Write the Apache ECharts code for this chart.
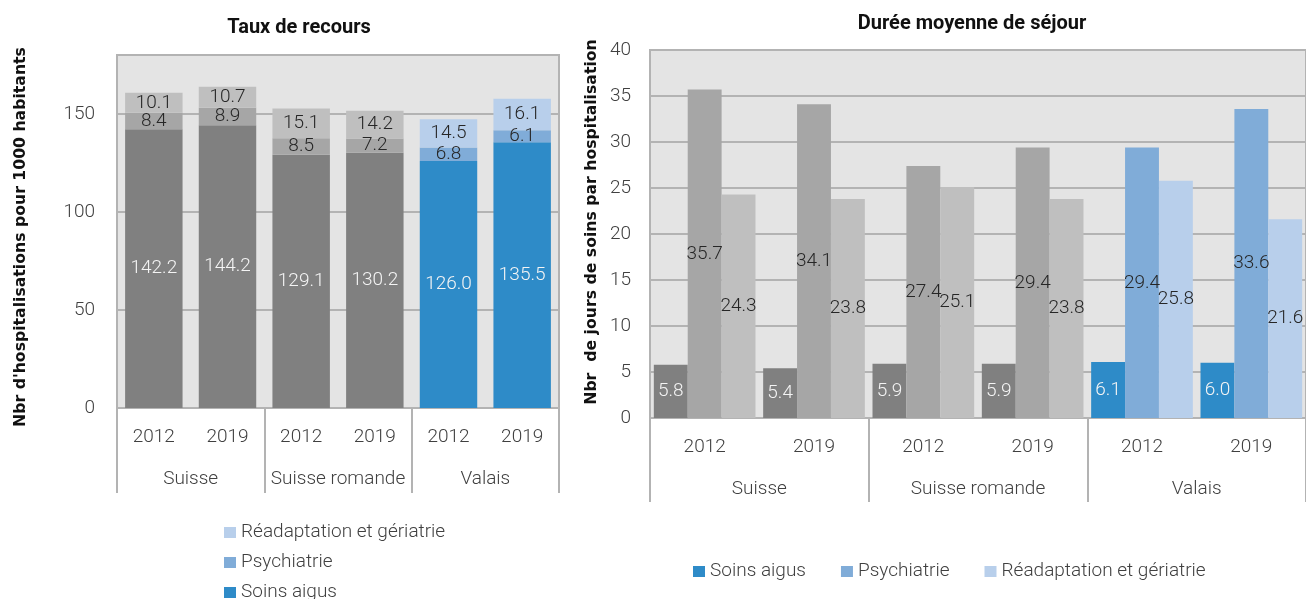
<!DOCTYPE html>
<html><head><meta charset="utf-8">
<script src="https://cdn.jsdelivr.net/npm/echarts@6/dist/echarts.min.js"></script>
<style>html,body{margin:0;padding:0;background:#fff}#c{width:1306px;height:599px}</style>
</head><body><div id="c"></div>
<script>
const years = ['2012','2019','2012','2019','2012','2019'];
const regions = ['Suisse','Suisse romande','Valais'];
const seriesNames = ['Soins aigus','Psychiatrie','Réadaptation et gériatrie'];
const tauxSoinsAigus = [142.2,144.2,129.1,130.2,126.0,135.5];
const tauxPsychiatrie = [8.4,8.9,8.5,7.2,6.8,6.1];
const tauxReadaptation = [10.1,10.7,15.1,14.2,14.5,16.1];
const dureeSoinsAigus = [5.8,5.4,5.9,5.9,6.1,6.0];
const dureePsychiatrie = [35.7,34.1,27.4,29.4,29.4,33.6];
const dureeReadaptation = [24.3,23.8,25.1,23.8,25.8,21.6];
const tauxTicks = [0,50,100,150];
const dureeTicks = [0,5,10,15,20,25,30,35,40];

const FONT = 'Roboto';
const FS = 19;
const blue = ['#2e8bc8','#80acd8','#b8cfeb'];
const grey = ['#808080','#a6a6a6','#bfbfbf'];
const lineC = '#b3b3b3';
const txt = '#404040';

function pts(vals, k){
  return vals.map((v,i)=>({value:v, itemStyle:{color: Math.floor(i/2)===2 ? blue[k] : grey[k]}}));
}
function lbl(k){
  return {show:true, position:'inside', fontFamily:FONT, fontSize:FS, fontWeight:300,
    color: k===0 ? '#f4f4f4' : '#262626', formatter: p => p.value.toFixed(1)};
}

const chart = echarts.init(document.getElementById('c'), null, {renderer:'canvas'});
const yearAxis = (gi, margin) => ({type:'category', gridIndex:gi, data:years, position:'bottom',
  axisLine:{show:true, lineStyle:{color:lineC, width:2}}, axisTick:{show:false},
  axisLabel:{fontFamily:FONT, fontSize:FS, fontWeight:300, color:txt, margin:margin, interval:0}});
const regionAxis = (gi, margin, len) => ({type:'category', gridIndex:gi, data:regions, position:'bottom',
  axisLine:{show:false}, axisTick:{show:true, interval:0, length:len, lineStyle:{color:lineC, width:2}},
  axisLabel:{fontFamily:FONT, fontSize:FS, fontWeight:300, color:txt, margin:margin, interval:0, hideOverlap:false}});

const tauxMax = 180;
const option = {
  animation:false,
  textStyle:{fontFamily:FONT},
  grid:[
    {left:117, right:1306-559, top:55, bottom:599-408, show:true, backgroundColor:'#e4e4e4', borderColor:lineC, borderWidth:2},
    {left:650, right:0, top:50, bottom:599-418, show:true, backgroundColor:'#e4e4e4', borderColor:lineC, borderWidth:2}
  ],
  xAxis:[ yearAxis(0,20), regionAxis(0,62,85), yearAxis(1,20), regionAxis(1,62,84) ],
  yAxis:[
    {type:'value', gridIndex:0, min:tauxTicks[0], max:tauxMax, interval:tauxTicks[1]-tauxTicks[0],
     axisLabel:{fontFamily:FONT, fontSize:FS, fontWeight:300, color:txt, margin:22, showMaxLabel:false,
       formatter: v => tauxTicks.includes(v) ? String(v) : ''},
     axisLine:{show:false}, axisTick:{show:false}, splitLine:{lineStyle:{color:lineC, width:2}}},
    {type:'value', gridIndex:1, min:dureeTicks[0], max:dureeTicks[dureeTicks.length-1], interval:dureeTicks[1]-dureeTicks[0],
     axisLabel:{fontFamily:FONT, fontSize:FS, fontWeight:300, color:txt, margin:19},
     axisLine:{show:false}, axisTick:{show:false}, splitLine:{lineStyle:{color:lineC, width:2}}}
  ],
  legend:[
    {orient:'vertical', left:219, top:518, height:200, itemWidth:12, itemHeight:11, itemGap:11, icon:'rect',
     data:[seriesNames[2], seriesNames[1], seriesNames[0]],
     textStyle:{fontFamily:FONT, fontSize:FS, fontWeight:300, color:txt}},
    {orient:'horizontal', left:688, top:557, itemWidth:12, itemHeight:11, itemGap:35, icon:'rect',
     data:[seriesNames[0], seriesNames[1], seriesNames[2]],
     textStyle:{fontFamily:FONT, fontSize:FS, fontWeight:300, color:txt}}
  ],
  series:[
    {name:seriesNames[0], type:'bar', stack:'t', xAxisIndex:0, yAxisIndex:0, barCategoryGap:'22%', color:blue[0], data:pts(tauxSoinsAigus,0), label:lbl(0)},
    {name:seriesNames[1], type:'bar', stack:'t', xAxisIndex:0, yAxisIndex:0, barCategoryGap:'22%', color:blue[1], data:pts(tauxPsychiatrie,1), label:lbl(1)},
    {name:seriesNames[2], type:'bar', stack:'t', xAxisIndex:0, yAxisIndex:0, barCategoryGap:'22%', color:blue[2], data:pts(tauxReadaptation,2), label:lbl(2)},
    {name:seriesNames[0], type:'bar', xAxisIndex:2, yAxisIndex:1, barGap:'0%', barCategoryGap:'7%', color:blue[0], data:pts(dureeSoinsAigus,0), label:lbl(0)},
    {name:seriesNames[1], type:'bar', xAxisIndex:2, yAxisIndex:1, barGap:'0%', barCategoryGap:'7%', color:blue[1], data:pts(dureePsychiatrie,1), label:lbl(1)},
    {name:seriesNames[2], type:'bar', xAxisIndex:2, yAxisIndex:1, barGap:'0%', barCategoryGap:'7%', color:blue[2], data:pts(dureeReadaptation,2), label:lbl(2)}
  ],
  graphic:[
    {type:'text', x:299, y:28, style:{text:'Taux de recours', fontFamily:FONT, fontSize:20, fontWeight:'bold', fill:'#111', align:'center', verticalAlign:'middle'}},
    {type:'text', x:972, y:24, style:{text:'Durée moyenne de séjour', fontFamily:FONT, fontSize:20, fontWeight:'bold', fill:'#111', align:'center', verticalAlign:'middle'}},
    {type:'text', x:21, y:237, rotation:Math.PI/2, style:{text:"Nbr d'hospitalisations pour 1000 habitants", fontFamily:'DejaVu Sans', fontSize:15.7, fontWeight:'bold', fill:'#111', align:'center', verticalAlign:'middle'}},
    {type:'text', x:592, y:222, rotation:Math.PI/2, style:{text:'Nbr  de jours de soins par hospitalisation', fontFamily:'DejaVu Sans', fontSize:15.7, fontWeight:'bold', fill:'#111', align:'center', verticalAlign:'middle'}}
  ]
};
chart.setOption(option);
</script></body></html>
